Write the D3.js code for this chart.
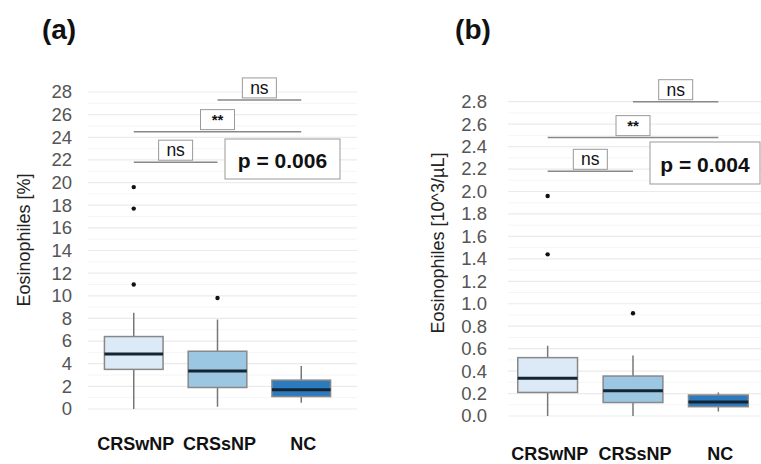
<!DOCTYPE html>
<html>
<head>
<meta charset="utf-8">
<script src="https://cdn.jsdelivr.net/npm/d3@7"></script>
<style>
  body { margin: 0; background: #fff; }
  text { font-family: Arial, "Liberation Sans", sans-serif; }
</style>
</head>
<body>
<svg id="chart" width="761" height="464"></svg>
<script>
// groupes
const groups = ["CRSwNP", "CRSsNP", "NC"];
const boxColors = ["#dce9f6", "#9cc7e2", "#2c7bbf"];

// (a) éosinophiles en %
const pctMin    = [0, 0.2, 0.55];
const pctQ1     = [3.5, 1.9, 1.1];
const pctMedian = [4.85, 3.35, 1.7];
const pctQ3     = [6.4, 5.1, 2.55];
const pctMax    = [8.5, 7.9, 3.8];
const pctOutliers = [[11, 17.7, 19.6], [9.8], []];
const pctTicks = d3.range(0, 29, 2);

// (b) éosinophiles en 10^3/µL
const absMin    = [0, 0, 0.04];
const absQ1     = [0.21, 0.12, 0.083];
const absMedian = [0.336, 0.225, 0.125];
const absQ3     = [0.52, 0.356, 0.187];
const absMax    = [0.626, 0.54, 0.21];
const absOutliers = [[1.44, 1.96], [0.915], []];
const absTicks = d3.range(0, 15).map(i => i * 0.2);

// comparaisons : [groupe1, groupe2, niveau, label]
const pctComparisons = [[0, 1, 21.8, "ns"], [0, 2, 24.5, "**"], [1, 2, 27.3, "ns"]];
const absComparisons = [[0, 1, 2.18, "ns"], [0, 2, 2.48, "**"], [1, 2, 2.8, "ns"]];
const pctP = "p = 0.006";
const absP = "p = 0.004";

const svg = d3.select("#chart");

function panel(opt) {
  const g = svg.append("g");
  const y = d3.scaleLinear().domain(opt.domain).range(opt.yRange);
  const x = d3.scaleBand().domain(groups).range(opt.xRange).paddingInner(0.3).paddingOuter(0.22);
  const bw = x.bandwidth();

  // lignes de grille (majeures + mineures)
  const step = opt.ticks[1] - opt.ticks[0];
  const minor = opt.ticks.slice(0, -1).map(t => t + step / 2);
  g.selectAll(".minor").data(minor).join("line")
    .attr("x1", opt.gridX[0]).attr("x2", opt.gridX[1])
    .attr("y1", d => y(d)).attr("y2", d => y(d))
    .attr("stroke", "#f5f5f5").attr("stroke-width", 1);
  g.selectAll(".major").data(opt.ticks).join("line")
    .attr("x1", opt.gridX[0]).attr("x2", opt.gridX[1])
    .attr("y1", d => y(d)).attr("y2", d => y(d))
    .attr("stroke", "#ebebeb").attr("stroke-width", 1.2);

  // axe y (texte seulement)
  const axis = g.append("g")
    .attr("transform", `translate(${opt.gridX[0]},0)`)
    .call(d3.axisLeft(y).tickValues(opt.ticks).tickFormat(opt.fmt).tickSize(0).tickPadding(opt.pad));
  axis.select(".domain").remove();
  axis.selectAll("text")
    .attr("fill", "#555").style("font-size", "18.5px")
    .style("font-family", "Arial, 'Liberation Sans', sans-serif");

  // titre axe y
  g.append("text")
    .attr("transform", `translate(${opt.labelX},${opt.labelY}) rotate(-90)`)
    .attr("text-anchor", "middle").attr("dominant-baseline", "central")
    .style("font-size", "18px").attr("fill", "#222")
    .text(opt.yLabel);

  // boîtes
  groups.forEach((grp, i) => {
    const cx = x(grp) + bw / 2;
    g.append("line")
      .attr("x1", cx).attr("x2", cx)
      .attr("y1", y(opt.min[i])).attr("y2", y(opt.max[i]))
      .attr("stroke", "#777").attr("stroke-width", 1.5);
    g.append("rect")
      .attr("x", x(grp)).attr("width", bw)
      .attr("y", y(opt.q3[i])).attr("height", y(opt.q1[i]) - y(opt.q3[i]))
      .attr("fill", boxColors[i]).attr("stroke", "#888").attr("stroke-width", 1.5);
    g.append("line")
      .attr("x1", x(grp)).attr("x2", x(grp) + bw)
      .attr("y1", y(opt.median[i])).attr("y2", y(opt.median[i]))
      .attr("stroke", "#142433").attr("stroke-width", 3);
    g.selectAll(null).data(opt.outliers[i]).join("circle")
      .attr("cx", cx).attr("cy", d => y(d)).attr("r", 2.2).attr("fill", "#111");
  });

  // étiquettes des groupes
  g.selectAll(".cat").data(groups).join("text")
    .attr("x", d => x(d) + bw / 2 + 2).attr("y", opt.catY)
    .attr("text-anchor", "middle")
    .style("font-size", "18px").style("font-weight", "bold").attr("fill", "#111")
    .text(d => d);

  // comparaisons
  opt.comparisons.forEach(([a, b, lvl, lab]) => {
    const x1 = x(groups[a]) + bw / 2, x2 = x(groups[b]) + bw / 2;
    const yy = y(lvl);
    g.append("line").attr("x1", x1).attr("x2", x2).attr("y1", yy).attr("y2", yy)
      .attr("stroke", "#888").attr("stroke-width", 1.5);
    const mid = (x1 + x2) / 2;
    g.append("rect").attr("x", mid - 17).attr("y", yy - 22).attr("width", 34).attr("height", 20)
      .attr("fill", "#fff").attr("stroke", "#999").attr("stroke-width", 1);
    g.append("text").attr("x", mid).attr("y", yy - 12)
      .attr("text-anchor", "middle").attr("dominant-baseline", "central")
      .style("font-size", lab === "**" ? "15px" : "17.5px")
      .style("font-weight", lab === "**" ? "bold" : "normal").attr("fill", "#111")
      .text(lab);
  });

  // boîte p-value
  g.append("rect").attr("x", opt.pBox[0]).attr("y", opt.pBox[1])
    .attr("width", opt.pBox[2]).attr("height", opt.pBox[3])
    .attr("fill", "#fff").attr("stroke", "#999").attr("stroke-width", 1);
  g.append("text").attr("x", opt.pBox[0] + opt.pBox[2] / 2).attr("y", opt.pBox[1] + opt.pBox[3] / 2 + 1)
    .attr("text-anchor", "middle").attr("dominant-baseline", "central")
    .style("font-size", "21px").style("font-weight", "bold").attr("fill", "#111")
    .text(opt.p);

  // titre du panneau
  svg.append("text").attr("x", opt.title[0]).attr("y", opt.title[1])
    .attr("text-anchor", "middle")
    .style("font-size", "28px").style("font-weight", "bold").attr("fill", "#111")
    .text(opt.title[2]);
}

panel({
  domain: [0, 28], yRange: [409, 92], ticks: pctTicks, fmt: d3.format("d"),
  xRange: [86, 349], gridX: [88, 357], pad: 16,
  min: pctMin, q1: pctQ1, median: pctMedian, q3: pctQ3, max: pctMax, outliers: pctOutliers,
  comparisons: pctComparisons, p: pctP, pBox: [225, 139, 115, 40],
  yLabel: "Eosinophiles [%]", labelX: 24, labelY: 240, catY: 450,
  title: [59, 39, "(a)"]
});

panel({
  domain: [0, 2.8], yRange: [416, 101.7], ticks: absTicks, fmt: d3.format(".1f"),
  xRange: [499, 767], gridX: [508, 761], pad: 21,
  min: absMin, q1: absQ1, median: absMedian, q3: absQ3, max: absMax, outliers: absOutliers,
  comparisons: absComparisons, p: absP, pBox: [650, 142, 110, 42],
  yLabel: "Eosinophiles [10^3/µL]", labelX: 438, labelY: 243, catY: 460,
  title: [473, 39, "(b)"]
});
</script>
</body>
</html>
